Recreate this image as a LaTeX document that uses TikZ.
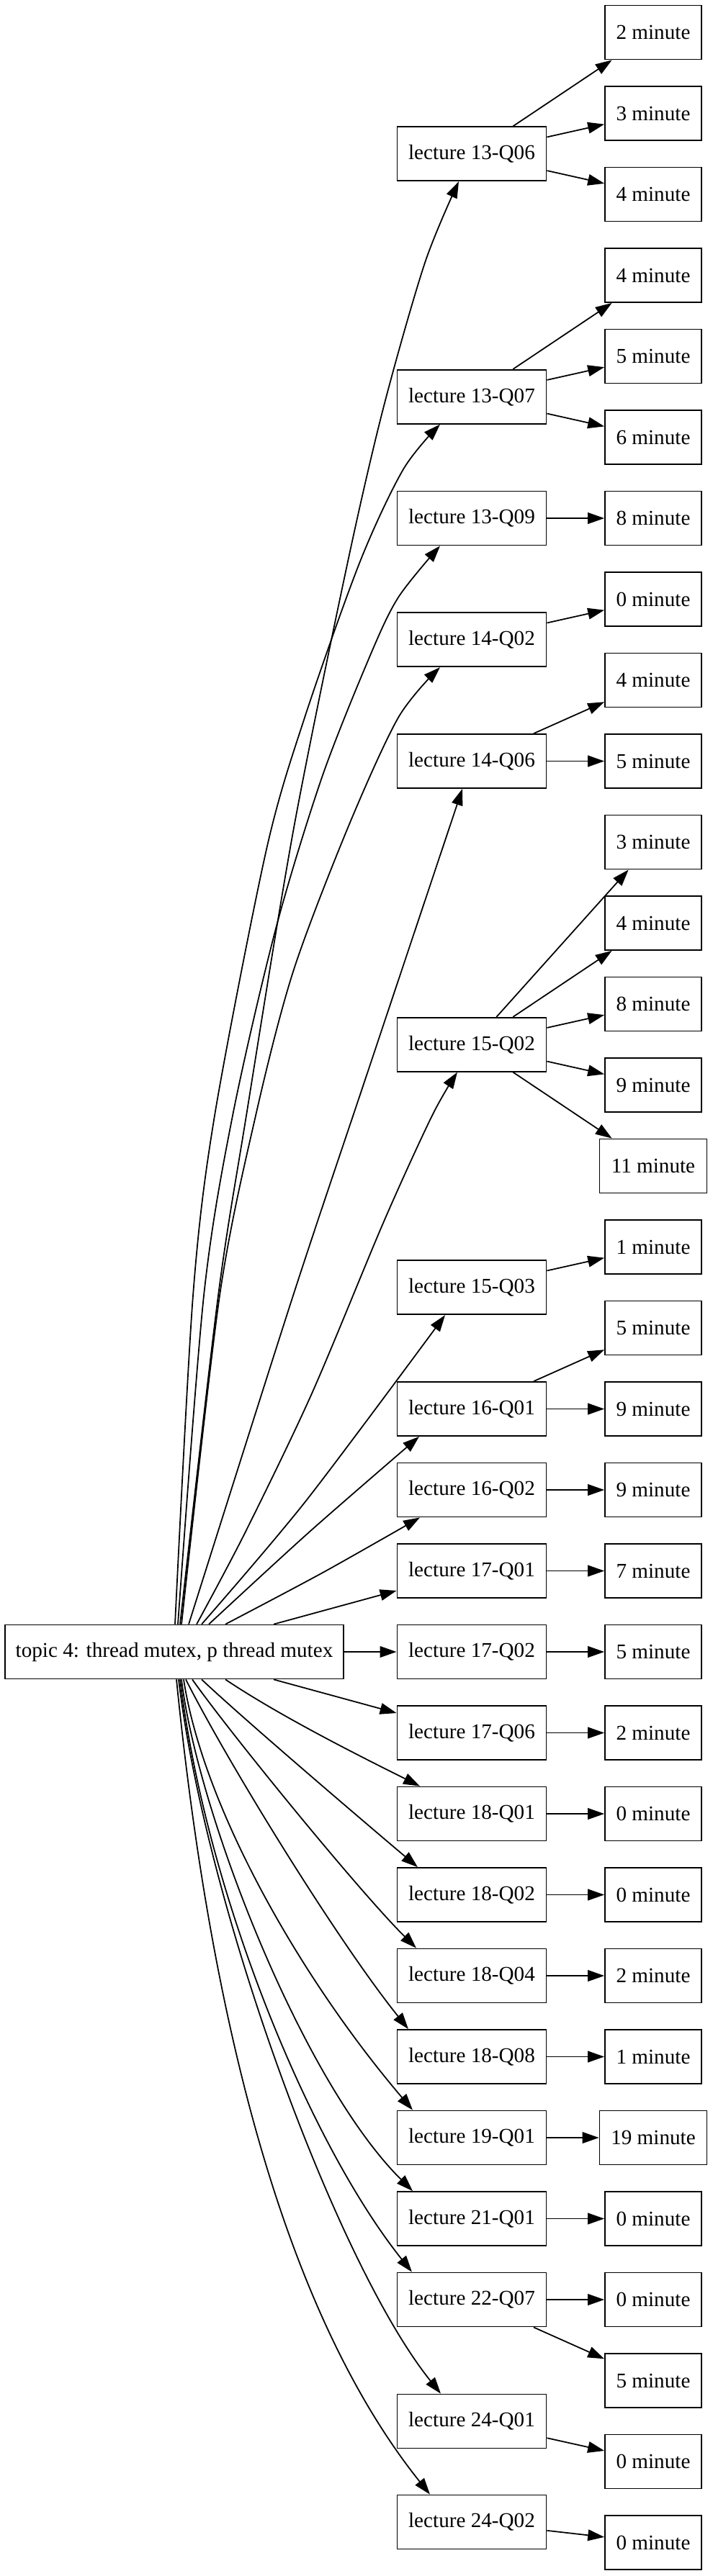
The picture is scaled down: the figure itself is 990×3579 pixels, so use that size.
\documentclass[tikz,border=0pt]{standalone}
\usepackage{fontspec}
\setmainfont{Liberation Serif}
\usetikzlibrary{arrows.meta,calc}
\begin{document}
\begin{tikzpicture}[x=0.48pt,y=-0.48pt,
  box/.style={draw, line width=0.85pt, rectangle, inner sep=0pt, minimum height=36pt, font=\fontsize{14}{16}\selectfont},
  topic/.style={box, minimum width=225.6pt},
  lec/.style={box, minimum width=99.4pt},
  mins/.style={box, minimum width=64.3pt},
  minw/.style={box, minimum width=71.5pt},
  edge/.style={line width=0.85pt, -{Triangle[length=11pt,width=7.5pt]}}]
\useasboundingbox (0,0) rectangle (990,3579);

% root
\node[topic] (root) at (242,2295) {topic 4: thread mutex, p thread mutex};

% lectures
\node[lec] (l1306) at (655,213.75) {lecture 13-Q06};
\node[lec] (l1307) at (655,551.25) {lecture 13-Q07};
\node[lec] (l1309) at (655,720) {lecture 13-Q09};
\node[lec] (l1402) at (655,888.75) {lecture 14-Q02};
\node[lec] (l1406) at (655,1057.5) {lecture 14-Q06};
\node[lec] (l1502) at (655,1451.25) {lecture 15-Q02};
\node[lec] (l1503) at (655,1788.75) {lecture 15-Q03};
\node[lec] (l1601) at (655,1957.5) {lecture 16-Q01};
\node[lec] (l1602) at (655,2070) {lecture 16-Q02};
\node[lec] (l1701) at (655,2182.5) {lecture 17-Q01};
\node[lec] (l1702) at (655,2295) {lecture 17-Q02};
\node[lec] (l1706) at (655,2407.5) {lecture 17-Q06};
\node[lec] (l1801) at (655,2520) {lecture 18-Q01};
\node[lec] (l1802) at (655,2632.5) {lecture 18-Q02};
\node[lec] (l1804) at (655,2745) {lecture 18-Q04};
\node[lec] (l1808) at (655,2857.5) {lecture 18-Q08};
\node[lec] (l1901) at (655,2970) {lecture 19-Q01};
\node[lec] (l2101) at (655,3082.5) {lecture 21-Q01};
\node[lec] (l2207) at (655,3195) {lecture 22-Q07};
\node[lec] (l2401) at (655,3364) {lecture 24-Q01};
\node[lec] (l2402) at (655,3504) {lecture 24-Q02};

% minutes
\foreach \k/\lab in {0/2,1/3,2/4,3/4,4/5,5/6,6/8,7/0,8/4,9/5,10/3,11/4,12/8,13/9,15/1,16/5,17/9,18/9,19/7,20/5,21/2,22/0,23/0,24/2,25/1,27/0,28/0,29/5,30/0,31/0}
  \node[mins] (m\k) at (907,{45+112.5*\k}) {\lab\ minute};
\node[minw] (m14) at (907,{45+112.5*14}) {11 minute};
\node[minw] (m26) at (907,{45+112.5*26}) {19 minute};

% lecture -> minute
\foreach \a/\b in {l1306/m0,l1306/m1,l1306/m2,l1307/m3,l1307/m4,l1307/m5,l1309/m6,l1402/m7,l1406/m8,l1406/m9,l1502/m10,l1502/m11,l1502/m12,l1502/m13,l1502/m14,l1503/m15,l1601/m16,l1601/m17,l1602/m18,l1701/m19,l1702/m20,l1706/m21,l1801/m22,l1802/m23,l1804/m24,l1808/m25,l1901/m26,l2101/m27,l2207/m28,l2207/m29,l2401/m30,l2402/m31}
  \draw[edge] (\a) -- (\b);

% root -> lectures (upwards)
\draw[edge] plot[smooth] coordinates {($(root.north)+(8,0)$) (303,1800) (342,1550) (408,1150) (483,780) (533,564) (590,365) ($(l1306.south)+(-18,0)$)};
\draw[edge] plot[smooth] coordinates {($(root.north)+(1,0)$) (268,1800) (298,1550) (370,1180) (423,997) (500,780) (560,652) ($(l1307.south)+(-44,0)$)};
\draw[edge] plot[smooth] coordinates {($(root.north)+(5,0)$) (283,1800) (323,1550) (383,1290) (447,1080) (513,913) (553,830) ($(l1309.south)+(-44,0)$)};
\draw[edge] plot[smooth] coordinates {($(root.north)+(10,0)$) (305,1800) (355,1550) (407,1350) (483,1150) (553,997) ($(l1402.south)+(-44,0)$)};
\draw[edge] plot[smooth] coordinates {($(root.north)+(20,0)$) (407,1800) (507,1500) ($(l1406.south)+(-13,0)$)};
\draw[edge] plot[smooth] coordinates {($(root.north)+(31,0)$) (340,2130) (433,1936) (533,1697) (600,1550) ($(l1502.south)+(-20,0)$)};
\draw[edge] plot[smooth] coordinates {($(root.north)+(38,0)$) (425,2085) ($(l1503.south)+(-37,0)$)};
\draw[edge] plot[smooth] coordinates {($(root.north)+(48,0)$) (430,2128) ($(l1601.south)+(-73,0)$)};
\draw[edge] plot[smooth] coordinates {($(root.north)+(71,0)$) (448,2185) ($(l1602.south)+(-72,0)$)};
\draw[edge] ($(root.north)+(138,0)$) -- ($(l1701.west)+(0,27.5)$);
\draw[edge] (root) -- (l1702);

% root -> lectures (downwards)
\draw[edge] ($(root.south)+(138,0)$) -- ($(l1706.west)+(0,-27.5)$);
\draw[edge] ($(root.south)+(71,0)$) .. controls (390,2385) and (500,2440) .. ($(l1801.north)+(-72,0)$);
\draw[edge] ($(root.south)+(38,0)$) .. controls (340,2390) and (510,2535) .. ($(l1802.north)+(-75,0)$);
\draw[edge] ($(root.south)+(25,0)$) .. controls (322,2411) and (499,2628) .. ($(l1804.north)+(-77,0)$);
\draw[edge] ($(root.south)+(16,0)$) .. controls (318,2452) and (469,2697) .. ($(l1808.north)+(-88,0)$);
\draw[edge] ($(root.south)+(13,0)$) .. controls (282,2510) and (416,2747) .. ($(l1901.north)+(-82,0)$);
\draw[edge] ($(root.south)+(10,0)$) .. controls (274,2517) and (419,2891) .. ($(l2101.north)+(-82,0)$);
\draw[edge] ($(root.south)+(8,0)$) .. controls (286,2630) and (430,2979) .. ($(l2207.north)+(-83,0)$);
\draw[edge] ($(root.south)+(6,0)$) .. controls (286,2649) and (467,3145) .. ($(l2401.north)+(-43,0)$);
\draw[edge] ($(root.south)+(3,0)$) .. controls (294,2822) and (399,3218) .. ($(l2402.north)+(-58,0)$);
\end{tikzpicture}
\end{document}
